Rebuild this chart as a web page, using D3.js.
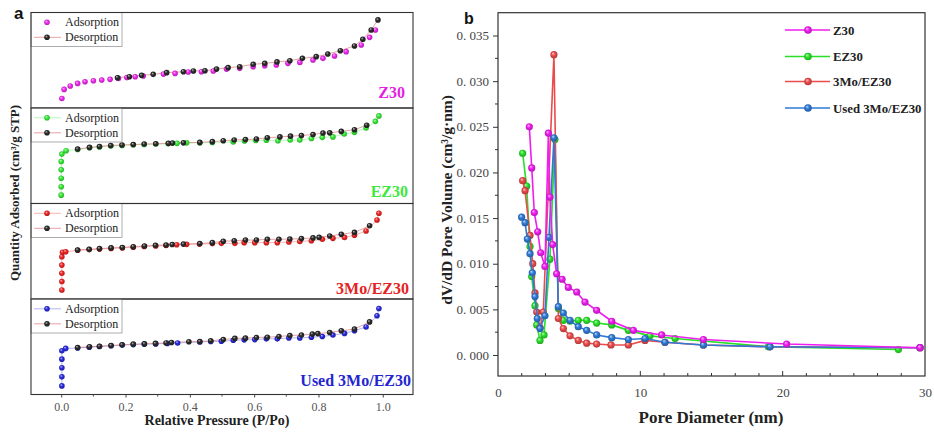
<!DOCTYPE html>
<html>
<head>
<meta charset="utf-8">
<script src="https://cdn.jsdelivr.net/npm/d3@7"></script>
<style>
  body { margin: 0; background: #fff; }
  svg { display: block; }
</style>
</head>
<body>
<svg id="chart" width="934" height="432"></svg>
<script>
// ---------- Panel a: N2 adsorption / desorption isotherms ----------
// [relative pressure P/Po, quantity adsorbed cm3/g STP]
const z30Ads = [[0.002,40],[0.009,78],[0.028,92],[0.051,103],[0.074,110],[0.100,114],[0.126,117],[0.152,120],[0.178,124],[0.204,128],[0.230,131],[0.255,134],[0.318,142],[0.354,145],[0.395,151],[0.436,152],[0.473,155],[0.514,163],[0.555,166],[0.597,173],[0.633,177],[0.669,180],[0.705,187],[0.742,191],[0.783,201],[0.814,208],[0.850,218],[0.886,236],[0.933,264],[0.959,296],[0.977,327]];
const z30Des = [[0.985,369],[0.964,327],[0.938,288],[0.912,260],[0.868,240],[0.829,226],[0.793,215],[0.750,208],[0.711,198],[0.671,193],[0.633,187],[0.597,183],[0.555,173],[0.519,169],[0.483,163],[0.447,156],[0.411,155],[0.380,152],[0.328,148],[0.286,141],[0.250,137],[0.212,131],[0.175,127]];

const ez30Ads = [[0.000,35],[0.000,70],[0.000,106],[0.000,141],[0.000,176],[0.002,207],[0.015,221],[0.051,226],[0.088,233],[0.119,237],[0.154,241],[0.189,243],[0.224,246],[0.258,247],[0.294,249],[0.333,250],[0.360,252],[0.390,254],[0.431,254],[0.470,256],[0.535,258],[0.570,262],[0.605,264],[0.638,265],[0.674,263],[0.712,266],[0.742,266],[0.778,272],[0.812,277],[0.845,279],[0.880,291],[0.912,298],[0.948,316],[0.977,344],[0.988,367]];
const ez30Des = [[0.950,328],[0.912,309],[0.871,302],[0.835,296],[0.814,295],[0.783,289],[0.747,285],[0.713,282],[0.680,279],[0.641,275],[0.607,270],[0.573,268],[0.538,266],[0.504,263],[0.470,259],[0.431,256],[0.380,254],[0.346,253],[0.333,252],[0.294,250],[0.258,249],[0.224,247],[0.189,245],[0.154,243],[0.119,239],[0.088,235],[0.051,228]];

const moAds = [[0.002,38],[0.002,73],[0.002,108],[0.002,142],[0.002,177],[0.004,196],[0.014,198],[0.051,204],[0.087,207],[0.119,209],[0.155,212],[0.190,214],[0.224,217],[0.258,220],[0.294,222],[0.326,224],[0.359,227],[0.390,229],[0.430,230],[0.470,232],[0.498,233],[0.540,233],[0.569,236],[0.602,236],[0.638,236],[0.672,236],[0.708,239],[0.742,241],[0.778,244],[0.812,250],[0.845,254],[0.881,258],[0.912,267],[0.948,285],[0.982,331],[0.988,359]];
const moDes = [[0.959,307],[0.912,279],[0.871,271],[0.835,264],[0.802,258],[0.783,256],[0.747,253],[0.711,251],[0.677,250],[0.641,250],[0.607,247],[0.573,247],[0.538,244],[0.504,242],[0.470,236],[0.431,232],[0.380,230],[0.345,228],[0.326,226],[0.293,225],[0.259,222],[0.224,219],[0.190,216],[0.155,214],[0.119,211],[0.087,208],[0.051,205]];

const usedAds = [[0.002,36],[0.002,74],[0.002,112],[0.002,148],[0.002,183],[0.014,193],[0.051,195],[0.087,198],[0.119,201],[0.155,204],[0.190,207],[0.224,209],[0.258,211],[0.294,212],[0.330,214],[0.362,216],[0.431,220],[0.465,222],[0.498,223],[0.535,227],[0.569,229],[0.602,230],[0.638,233],[0.672,233],[0.708,237],[0.742,237],[0.778,240],[0.812,243],[0.845,249],[0.881,256],[0.912,267],[0.948,283],[0.982,330],[0.988,360]];
const usedDes = [[0.959,304],[0.912,274],[0.871,267],[0.835,260],[0.798,255],[0.781,253],[0.747,249],[0.711,247],[0.677,243],[0.641,240],[0.607,239],[0.573,236],[0.540,235],[0.504,230],[0.465,225],[0.431,222],[0.397,221],[0.343,218],[0.326,216],[0.293,214],[0.259,212],[0.224,211],[0.189,208],[0.155,205],[0.119,202],[0.088,200],[0.051,197]];

const sampleNames = ["Z30", "EZ30", "3Mo/EZ30", "Used 3Mo/EZ30"];
const isoAds = [z30Ads, ez30Ads, moAds, usedAds];
const isoDes = [z30Des, ez30Des, moDes, usedDes];
const pressureTicks = [0.0, 0.2, 0.4, 0.6, 0.8, 1.0];
const pressureMinor = [0.1, 0.3, 0.5, 0.7, 0.9];

// ---------- Panel b: BJH pore size distribution ----------
// [pore diameter nm, dV/dD cm3/(g nm)]
const z30Pore = [[2.20,0.0250],[2.37,0.0205],[2.55,0.0156],[2.79,0.0135],[3.00,0.0112],[3.30,0.0097],[3.54,0.0243],[3.65,0.0173],[3.84,0.0121],[4.12,0.0089],[4.50,0.0083],[4.94,0.0074],[5.53,0.0069],[6.11,0.0058],[6.93,0.0049],[7.99,0.0037],[9.51,0.0027],[11.50,0.0022],[14.43,0.0017],[20.28,0.0012],[29.65,0.0008]];
const ez30Pore = [[1.73,0.0221],[2.01,0.0185],[2.25,0.0119],[2.37,0.0086],[2.60,0.0054],[2.72,0.0033],[2.95,0.0016],[3.23,0.0022],[3.65,0.0105],[4.00,0.0236],[4.24,0.0051],[4.59,0.0038],[5.06,0.0037],[5.64,0.0038],[6.23,0.0038],[6.93,0.0035],[7.99,0.0033],[9.16,0.0027],[10.68,0.0021],[12.44,0.0018],[18.99,0.0009],[28.13,0.0006]];
const moPore = [[1.73,0.0191],[1.90,0.0180],[2.25,0.0131],[2.44,0.0100],[2.60,0.0068],[2.72,0.0047],[2.95,0.0030],[3.18,0.0047],[3.93,0.0329],[4.24,0.0040],[4.59,0.0029],[5.06,0.0021],[5.64,0.0016],[6.23,0.0013],[6.93,0.0012],[7.94,0.0011],[9.16,0.0011],[10.33,0.0016],[11.73,0.0014],[14.43,0.0011],[19.11,0.0009],[29.65,0.0008]];
const usedPore = [[1.66,0.0151],[1.90,0.0145],[2.06,0.0127],[2.25,0.0111],[2.41,0.0090],[2.60,0.0064],[2.76,0.0040],[2.95,0.0029],[3.30,0.0043],[3.58,0.0129],[3.93,0.0238],[4.24,0.0053],[4.59,0.0046],[5.06,0.0038],[5.64,0.0031],[6.23,0.0027],[6.93,0.0022],[7.99,0.0019],[9.16,0.0017],[10.33,0.0018],[11.73,0.0014],[14.43,0.0011],[19.11,0.0009],[29.65,0.0008]];
const poreSeries = [z30Pore, ez30Pore, moPore, usedPore];
const diameterTicks = [0, 10, 20, 30];
const volumeTicks = [0.000, 0.005, 0.010, 0.015, 0.020, 0.025, 0.030, 0.035];

// colours
const isoColors = ["#f02af0", "#35ea35", "#f02424", "#2a2ae0"];
const isoLabelColors = ["#e31ee3", "#3ee83e", "#e52222", "#2525d0"];
const poreColors = ["#f01df0", "#27e027", "#eb4b4b", "#2f7ad6"];

const serif = "'Liberation Serif', 'Times New Roman', serif";
const svg = d3.select("#chart");
const defs = svg.append("defs");

// shaded ball markers
function sphere(id, color) {
  const g = defs.append("radialGradient").attr("id", id)
    .attr("cx", "50%").attr("cy", "50%").attr("r", "55%")
    .attr("fx", "35%").attr("fy", "30%");
  g.append("stop").attr("offset", "0%").attr("stop-color", d3.interpolateRgb(color, "#fff")(0.7));
  g.append("stop").attr("offset", "45%").attr("stop-color", color);
  g.append("stop").attr("offset", "100%").attr("stop-color", d3.color(color).darker(0.9));
  return `url(#${id})`;
}
const blackBall = sphere("ball-black", "#2a2a2a");
const isoBalls = isoColors.map((c, i) => sphere("ball-iso-" + i, c));
const poreBalls = poreColors.map((c, i) => sphere("ball-pore-" + i, c));

// ======================= Panel a =======================
const aL = 31, aR = 413, aTop = 12.5, aH = 95.5;
const xP = d3.scaleLinear().domain([-0.094, 1.094]).range([aL, aR]);
const labelBase = [98, 196.5, 294, 385.5];
const labelEnd = [405, 408, 409, 411];
const rIso = 2.8;

sampleNames.forEach((name, i) => {
  const top = aTop + i * aH, bottom = top + aH;
  const yQ = d3.scaleLinear().domain([0, 400]).range([bottom, top]);
  const g = svg.append("g");
  const line = d3.line().x(d => xP(d[0])).y(d => yQ(d[1]));

  // connecting lines
  if (i > 0) {
    g.append("path").attr("d", line(isoAds[i])).attr("fill", "none")
      .attr("stroke", isoColors[i]).attr("stroke-opacity", 0.5).attr("stroke-width", 0.7);
  }
  g.append("path").attr("d", line(isoDes[i])).attr("fill", "none")
    .attr("stroke", "#e07a7a").attr("stroke-width", 0.7);

  // adsorption then desorption points
  g.selectAll(".ads").data(isoAds[i]).join("circle")
    .attr("cx", d => xP(d[0])).attr("cy", d => yQ(d[1])).attr("r", rIso)
    .attr("fill", isoBalls[i]);
  g.selectAll(".des").data(isoDes[i]).join("circle")
    .attr("cx", d => xP(d[0])).attr("cy", d => yQ(d[1])).attr("r", rIso)
    .attr("fill", blackBall);

  // legend box
  const lg = g.append("g");
  lg.append("rect").attr("x", aL).attr("y", top).attr("width", 91).attr("height", 34)
    .attr("fill", "#fff").attr("stroke", "#9a9a9a").attr("stroke-width", 0.8);
  const rows = [
    {label: "Adsorption", ball: isoBalls[i], stroke: isoColors[i], line: i > 0},
    {label: "Desorption", ball: blackBall, stroke: "#e07a7a", line: true}
  ];
  rows.forEach((r, k) => {
    const cy = top + 9.8 + k * 15;
    if (r.line) lg.append("line").attr("x1", 34).attr("x2", 61).attr("y1", cy).attr("y2", cy)
      .attr("stroke", r.stroke).attr("stroke-opacity", k === 0 ? 0.5 : 1).attr("stroke-width", 0.7);
    lg.append("circle").attr("cx", 47).attr("cy", cy).attr("r", rIso).attr("fill", r.ball);
    lg.append("text").attr("x", 65).attr("y", cy + 4).text(r.label)
      .attr("font-family", serif).attr("font-size", 12).attr("fill", "#222");
  });

  // sample label
  g.append("text").attr("x", labelEnd[i]).attr("y", labelBase[i]).attr("text-anchor", "end")
    .attr("font-family", serif).attr("font-weight", "bold").attr("font-size", 16)
    .attr("fill", isoLabelColors[i]).text(name);

  // panel frame
  g.append("rect").attr("x", aL).attr("y", top).attr("width", aR - aL).attr("height", aH)
    .attr("fill", "none").attr("stroke", "#333").attr("stroke-width", 1.1);
});

// x axis of panel a
const aBottom = aTop + 4 * aH;
const axA = svg.append("g").attr("transform", `translate(0,${aBottom})`);
axA.call(d3.axisBottom(xP).tickValues(pressureTicks).tickFormat(d3.format(".1f")).tickSize(3).tickPadding(5))
  .call(g => g.select(".domain").remove());
axA.selectAll(".tick line").attr("stroke", "#444");
axA.selectAll("text").attr("font-family", serif).attr("font-size", 12).attr("fill", "#555");
axA.selectAll(".minor").data(pressureMinor).join("line").attr("class", "minor")
  .attr("x1", d => xP(d)).attr("x2", d => xP(d)).attr("y1", 0).attr("y2", 2).attr("stroke", "#444");

svg.append("text").attr("x", 217).attr("y", 425).attr("text-anchor", "middle")
  .attr("font-family", serif).attr("font-weight", "bold").attr("font-size", 14).attr("fill", "#222")
  .text("Relative Pressure (P/Po)");
svg.append("text").attr("transform", "translate(19,193) rotate(-90)").attr("text-anchor", "middle")
  .attr("font-family", serif).attr("font-weight", "bold").attr("font-size", 13).attr("fill", "#222")
  .text("Quantity Adsorbed (cm³/g STP)");
svg.append("text").attr("x", 14).attr("y", 19).attr("font-family", "Arial, 'Liberation Sans', sans-serif")
  .attr("font-weight", "bold").attr("font-size", 17).attr("fill", "#111").text("a");

// ======================= Panel b =======================
const bL = 498, bR = 925, bT = 12.7, bB = 376;
const xD = d3.scaleLinear().domain([0, 30]).range([bL, bR]);
const yV = d3.scaleLinear().domain([-0.0023, 0.0375]).range([bB, bT]);

// y axis
const axY = svg.append("g").attr("transform", `translate(${bL},0)`);
axY.call(d3.axisLeft(yV).tickValues(volumeTicks).tickSize(5).tickPadding(4)
  .tickFormat(d => d3.format(".3f")(d).replace(".", ". ")))
  .call(g => g.select(".domain").remove());
axY.selectAll(".tick line").attr("stroke", "#333");
axY.selectAll("text").attr("font-family", serif).attr("font-size", 13).attr("fill", "#444");
axY.selectAll(".minor").data(d3.range(7).map(k => volumeTicks[k] + 0.0025)).join("line").attr("class", "minor")
  .attr("x1", 0).attr("x2", -3).attr("y1", d => yV(d)).attr("y2", d => yV(d)).attr("stroke", "#333");

// x axis (ticks pointing inward)
const axX = svg.append("g").attr("transform", `translate(0,${bB})`);
axX.call(d3.axisBottom(xD).tickValues(diameterTicks).tickSize(0).tickPadding(12))
  .call(g => g.select(".domain").remove());
axX.selectAll("text").attr("font-family", serif).attr("font-size", 13).attr("fill", "#444");
axX.selectAll(".tk").data(d3.range(1, 18).map(k => k * 10 / 6)).join("line").attr("class", "tk")
  .attr("x1", d => xD(d)).attr("x2", d => xD(d)).attr("y1", 0)
  .attr("y2", d => Math.abs(d / 10 - Math.round(d / 10)) < 1e-6 ? -5 : -3).attr("stroke", "#333");

// series
const lineB = d3.line().x(d => xD(d[0])).y(d => yV(d[1]));
[1, 2, 3, 0].forEach(i => {
  const g = svg.append("g");
  g.append("path").attr("d", lineB(poreSeries[i])).attr("fill", "none")
    .attr("stroke", poreColors[i]).attr("stroke-width", 1.6);
  g.selectAll("circle").data(poreSeries[i]).join("circle")
    .attr("cx", d => xD(d[0])).attr("cy", d => yV(d[1])).attr("r", 3.6)
    .attr("fill", poreBalls[i]);
});

// frame
svg.append("rect").attr("x", bL).attr("y", bT).attr("width", bR - bL).attr("height", bB - bT)
  .attr("fill", "none").attr("stroke", "#333").attr("stroke-width", 1.2);

// legend
const legRows = [30, 56.5, 81.5, 108];
sampleNames.forEach((name, i) => {
  const y = legRows[i];
  svg.append("line").attr("x1", 785).attr("x2", 830).attr("y1", y).attr("y2", y)
    .attr("stroke", poreColors[i]).attr("stroke-width", 1.6);
  svg.append("circle").attr("cx", 808).attr("cy", y).attr("r", 3.8).attr("fill", poreBalls[i]);
  svg.append("text").attr("x", 833).attr("y", y + 4.5).attr("font-family", serif)
    .attr("font-weight", "bold").attr("font-size", 12.8).attr("fill", "#222").text(name);
});

svg.append("text").attr("x", 711).attr("y", 423).attr("text-anchor", "middle")
  .attr("font-family", serif).attr("font-weight", "bold").attr("font-size", 17).attr("fill", "#222")
  .text("Pore Diameter (nm)");
svg.append("text").attr("transform", "translate(452,200) rotate(-90)").attr("text-anchor", "middle")
  .attr("font-family", serif).attr("font-weight", "bold").attr("font-size", 15.5).attr("fill", "#222")
  .text("dV/dD Pore Volume (cm³/g·nm)");
svg.append("text").attr("x", 464).attr("y", 24).attr("font-family", "Arial, 'Liberation Sans', sans-serif")
  .attr("font-weight", "bold").attr("font-size", 16).attr("fill", "#111").text("b");
</script>
</body>
</html>
